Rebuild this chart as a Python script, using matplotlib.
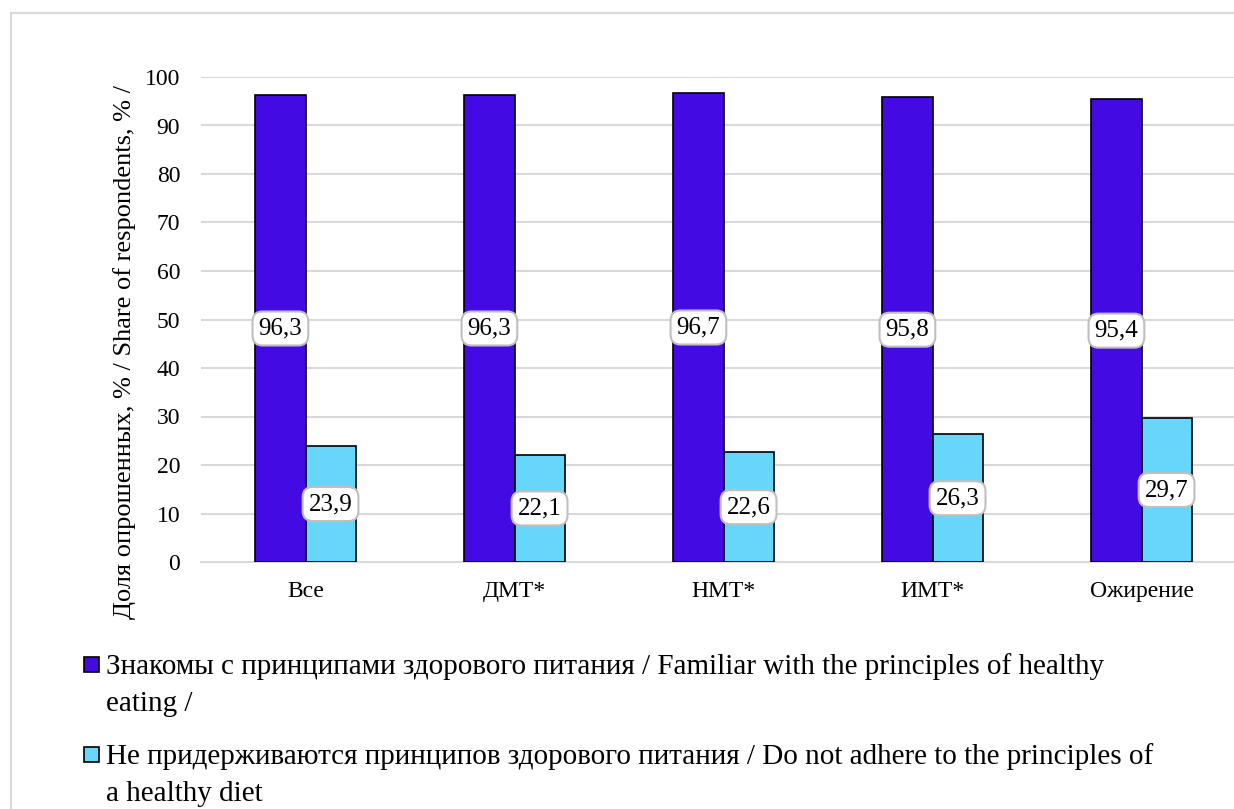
import matplotlib
matplotlib.use("Agg")
import matplotlib.pyplot as plt
from matplotlib.patches import Rectangle
import numpy as np

plt.rcParams["font.family"] = ["Liberation Serif", "DejaVu Serif"]

categories = ["Все", "ДМТ*", "НМТ*", "ИМТ*", "Ожирение"]
familiar = [96.3, 96.3, 96.7, 95.8, 95.4]
not_adhere = [23.9, 22.1, 22.6, 26.3, 29.7]
series_labels = [
    "Знакомы с принципами здорового питания / Familiar with the principles of healthy\neating /",
    "Не придерживаются принципов здорового питания / Do not adhere to the principles of\na healthy diet",
]
y_label = "Доля опрошенных, % / Share of respondents, % /"

BLUE = "#430AE3"
CYAN = "#66D6FB"
GRID = "#D9D9D9"

W, H = 1234, 809
fig = plt.figure(figsize=(W / 100, H / 100), dpi=100)

# outer frame of the chart area
fig.patches.append(Rectangle((11 / W, -0.05), 1.2, 1 - 13 / H + 0.05, transform=fig.transFigure,
                             fill=False, edgecolor="#D9D9D9", linewidth=1.5, zorder=0))

ax = fig.add_axes([201 / W, 247 / H, 1045 / W, 485 / H])
x = np.arange(len(categories))
width = 0.24
b1 = ax.bar(x - width / 2, familiar, width, color=BLUE, edgecolor="black", linewidth=1.2, zorder=3)
b2 = ax.bar(x + width / 2, not_adhere, width, color=CYAN, edgecolor="black", linewidth=1.2, zorder=3)

# value labels in rounded boxes at the middle of each bar
box = dict(boxstyle="round,pad=0.24,rounding_size=0.4", facecolor="white", edgecolor="#BFBFBF", linewidth=1.5)
for bars, vals in ((b1, familiar), (b2, not_adhere)):
    for b, v in zip(bars, vals):
        ax.text(b.get_x() + b.get_width() / 2, v / 2, f"{v:.1f}".replace(".", ","),
                ha="center", va="center", fontsize=18, bbox=box, zorder=4)

ax.set_xlim(-0.5, len(categories) - 0.5)
ax.set_ylim(0, 100)
ax.set_yticks(np.arange(0, 101, 10))
ax.set_xticks(x)
ax.set_xticklabels(categories, fontsize=17)
ax.tick_params(axis="y", labelsize=17, length=0, pad=15)
ax.tick_params(axis="x", length=0, pad=14)
ax.yaxis.grid(True, color=GRID, linewidth=1.5, zorder=0)
ax.set_axisbelow(True)
for s in ["top", "right", "left"]:
    ax.spines[s].set_visible(False)
ax.spines["bottom"].set_color(GRID)
ax.spines["bottom"].set_linewidth(1.5)

fig.text(125 / W, 1 - 352 / H, y_label, rotation=90, ha="center", va="center", fontsize=19)

# legend drawn below the plot, square marker next to the first text line
for i, (lab, col) in enumerate(zip(series_labels, [BLUE, CYAN])):
    ytop = 648 + i * 90
    fig.patches.append(Rectangle((84 / W, 1 - (ytop + 24) / H), 15 / W, 15 / H, transform=fig.transFigure,
                                 facecolor=col, edgecolor="black", linewidth=1.2))
    fig.text(106 / W, 1 - (ytop + 5) / H, lab, ha="left", va="top", fontsize=21, linespacing=1.55)

fig.savefig("out.png", dpi=100)
